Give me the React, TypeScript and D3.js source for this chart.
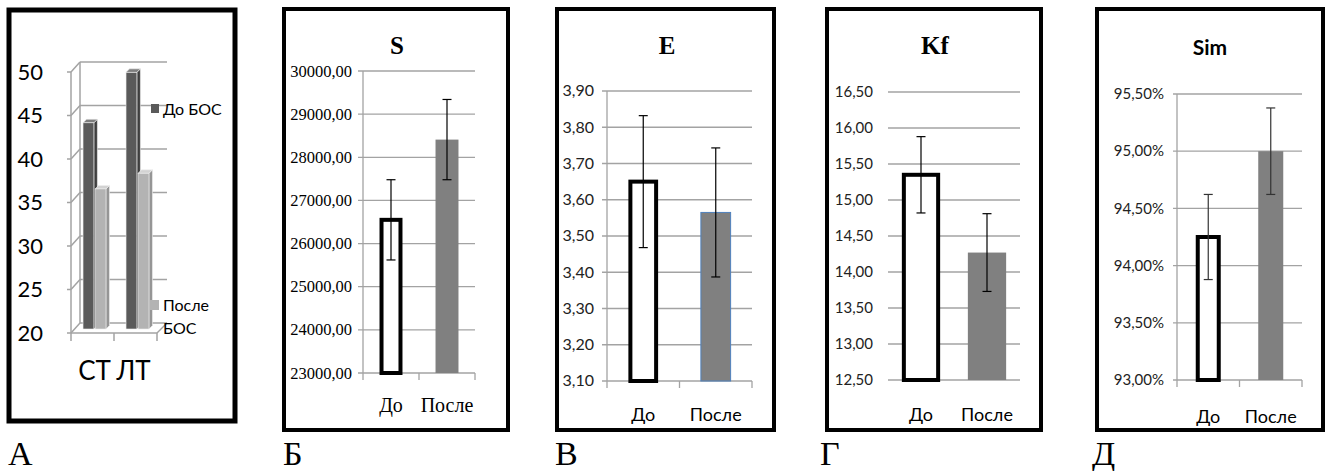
import React from "react";
import * as d3 from "d3";

// ---------- Panel A data ----------
const aCategories = ["СТ", "ЛТ"];
const aSeries = ["До БОС", "После БОС"];
const aBefore = [43.7, 49.5];
const aAfter = [36.1, 37.9];
const aTicks = [20, 25, 30, 35, 40, 45, 50];

// ---------- Bar panels data ----------
const groups = ["До", "После"];
const sValues = [26550, 28410];
const sErrors = [930, 930];
const sTicks = [23000, 24000, 25000, 26000, 27000, 28000, 29000, 30000];
const eValues = [3.65, 3.565];
const eErrors = [0.182, 0.178];
const eTicks = [3.1, 3.2, 3.3, 3.4, 3.5, 3.6, 3.7, 3.8, 3.9];
const kfValues = [15.35, 14.27];
const kfErrors = [0.53, 0.54];
const kfTicks = [12.5, 13, 13.5, 14, 14.5, 15, 15.5, 16, 16.5];
const simValues = [94.25, 95.0];
const simErrors = [0.372, 0.378];
const simTicks = [93, 93.5, 94, 94.5, 95, 95.5];
const panelLetters = ["А", "Б", "В", "Г", "Д"];

const SERIF = "Liberation Serif, Times New Roman, serif";
const SANS = "Lato, Open Sans, sans-serif";
const GRID = "#a3a3a3";

const comma = (v: number, d: number) => v.toFixed(d).replace(".", ",");

function T(props: any) {
  const { font, children, ...rest } = props;
  return <text {...rest} style={{ fontFamily: font }}>{children}</text>;
}

function Frame({ x0, x1, y0, y1, w }: any) {
  return <rect x={x0} y={y0} width={x1 - x0} height={y1 - y0} fill="white" stroke="black" strokeWidth={w} />;
}

function PanelA() {
  const y = d3.scaleLinear().domain([20, 50]).range([333, 72]);
  const backDx = 9, backDy = -10;
  const xFront = d3.scaleBand().domain(aCategories).range([71, 157]);
  const sub = d3.scaleBand().domain(aSeries).range([0, xFront.bandwidth()]).paddingInner(0.1).paddingOuter(0.83);
  const barDx = 2, barDy = -4, depth = 3.5;
  const backRight = 167;
  const frontColors = ["#5a5a5a", "#b3b3b3"];
  const sideColors = ["#3e3e3e", "#959595"];
  const topColors = ["#7d7d7d", "#d2d2d2"];
  const bars: any[] = [];
  aCategories.forEach((c, ci) => {
    [aBefore, aAfter].forEach((arr, si) => {
      const x0 = (xFront(c) as number) + (sub(aSeries[si]) as number) + barDx;
      const x1 = x0 + sub.bandwidth();
      const top = y(arr[ci]) + barDy;
      const bot = y(20) + barDy;
      bars.push(
        <g key={c + si}>
          <polygon points={`${x1},${top} ${x1 + depth},${top - depth} ${x1 + depth},${bot - depth} ${x1},${bot}`} fill={sideColors[si]} stroke="#eeeeee" strokeWidth={0.6} />
          <polygon points={`${x0},${top} ${x0 + depth},${top - depth} ${x1 + depth},${top - depth} ${x1},${top}`} fill={topColors[si]} stroke="#eeeeee" strokeWidth={0.6} />
          <rect x={x0} y={top} width={x1 - x0} height={bot - top} fill={frontColors[si]} stroke="#eeeeee" strokeWidth={0.6} />
        </g>
      );
    });
  });
  const xTickPos = [71, (xFront(aCategories[1]) as number), 157];
  return (
    <g>
      <Frame x0={9} x1={235} y0={10} y1={421} w={5} />
      {aTicks.map((t) => (
        <g key={t}>
          <line x1={67} x2={71} y1={y(t)} y2={y(t)} stroke={GRID} strokeWidth={1.5} />
          <line x1={71} y1={y(t)} x2={71 + backDx} y2={y(t) + backDy} stroke={GRID} strokeWidth={1.5} />
          <line x1={71 + backDx} x2={backRight} y1={y(t) + backDy} y2={y(t) + backDy} stroke={GRID} strokeWidth={1.5} />
          <T x={43} y={y(t) + 7.5} textAnchor="end" font={SANS} fontSize={22} fill="black">{t}</T>
        </g>
      ))}
      <line x1={71 + backDx} x2={71 + backDx} y1={y(50) + backDy} y2={y(20) + backDy} stroke={GRID} strokeWidth={1.5} />
      <line x1={71} x2={71} y1={y(50)} y2={y(20)} stroke={GRID} strokeWidth={1.5} />
      <line x1={71} x2={157} y1={y(20)} y2={y(20)} stroke={GRID} strokeWidth={1.5} />
      <line x1={157} y1={y(20)} x2={backRight} y2={y(20) + backDy} stroke={GRID} strokeWidth={1.5} />
      {xTickPos.map((xx, i) => (
        <line key={i} x1={xx} x2={xx} y1={y(20)} y2={y(20) + 8} stroke={GRID} strokeWidth={1.5} />
      ))}
      {bars}
      {aCategories.map((c) => (
        <T key={c} x={(xFront(c) as number) + xFront.bandwidth() / 2 + (c === "СТ" ? 2 : -2)} y={380} textAnchor="middle" font={SANS} fontSize={26} fill="black">{c}</T>
      ))}
      <rect x={151} y={104} width={8} height={9} fill={frontColors[0]} />
      <T x={163} y={115} font={SANS} fontSize={16} fill="black">{aSeries[0]}</T>
      <rect x={150} y={300} width={9} height={10} fill={frontColors[1]} />
      <T x={163} y={311} font={SANS} fontSize={16} fill="black">После</T>
      <T x={163} y={334} font={SANS} fontSize={16} fill="black">БОС</T>
    </g>
  );
}

function BarPanel(p: any) {
  const y = d3.scaleLinear().domain(p.domain).range(p.yRange);
  const x = d3.scaleBand().domain(groups).range(p.xRange).paddingInner(p.pad).paddingOuter(p.pad / 2);
  const [xa, xb] = p.xRange;
  const base = y(p.domain[0]);
  return (
    <g>
      <Frame x0={p.frame[0]} x1={p.frame[1]} y0={9} y1={430} w={4} />
      <T x={p.titleX} y={p.titleY} textAnchor="middle" font={p.titleFont} fontWeight="bold" fontSize={p.titleSize} fill="black">{p.title}</T>
      {p.ticks.map((t: number) => (
        <g key={t}>
          <line x1={xa - p.tickOut} x2={xb} y1={y(t)} y2={y(t)} stroke={GRID} strokeWidth={1.3} />
          <T x={p.labelX} y={y(t) + p.labelSize * 0.34} textAnchor="end" font={p.labelFont} fontSize={p.labelSize} fill={p.labelColor || "black"}>{p.fmt(t)}</T>
        </g>
      ))}
      {p.axis && <line x1={xa} x2={xa} y1={y(p.domain[1])} y2={base} stroke={GRID} strokeWidth={1.3} />}
      {p.xTicks && [xa, (x("После") as number) - (x.step() * p.pad) / 2, xb].map((xx: number, i: number) => (
        <line key={i} x1={xx} x2={xx} y1={base} y2={base + 7} stroke={GRID} strokeWidth={1.3} />
      ))}
      {groups.map((g, i) => {
        const bx = x(g) as number;
        const bw = x.bandwidth();
        const top = y(p.values[i]);
        const cx = bx + bw / 2;
        const e1 = y(p.values[i] + p.errors[i]);
        const e0 = y(p.values[i] - p.errors[i]);
        return (
          <g key={g}>
            {i === 0 ? (
              <rect x={bx + 2} y={top} width={bw - 4} height={base - top} fill="white" stroke="black" strokeWidth={4} />
            ) : (
              <rect x={bx} y={top} width={bw} height={base - top} fill="#808080" stroke={p.afterStroke || "none"} strokeWidth={1} />
            )}
            <line x1={cx} x2={cx} y1={e1} y2={e0} stroke={p.errColor || "black"} strokeWidth={1.2} />
            <line x1={cx - 4.5} x2={cx + 4.5} y1={e1} y2={e1} stroke={p.errColor || "black"} strokeWidth={1.2} />
            <line x1={cx - 4.5} x2={cx + 4.5} y1={e0} y2={e0} stroke={p.errColor || "black"} strokeWidth={1.2} />
            <T x={cx} y={p.catY} textAnchor="middle" font={p.catFont} fontSize={p.catSize} fill="black">{g}</T>
          </g>
        );
      })}
    </g>
  );
}

export default function App() {
  return (
    <svg width={1330} height={471} style={{ position: "absolute", left: 0, top: 0, background: "white" }}>
      <rect x={0} y={0} width={1330} height={471} fill="white" />
      <PanelA />
      <BarPanel frame={[284, 508]} title="S" titleX={397} titleY={54} titleFont={SERIF} titleSize={25}
        domain={[23000, 30000]} yRange={[373, 71]} ticks={sTicks} fmt={(v: number) => comma(v, 2)}
        labelX={352} labelFont={SERIF} labelSize={16.5} xRange={[363, 475]} pad={0.59} tickOut={5}
        axis xTicks values={sValues} errors={sErrors} catY={412} catFont={SERIF} catSize={20} />
      <BarPanel frame={[557, 774]} title="E" titleX={667} titleY={54} titleFont={SERIF} titleSize={25}
        domain={[3.1, 3.9]} yRange={[381, 91]} ticks={eTicks} fmt={(v: number) => comma(v, 2)}
        labelX={594} labelFont={SANS} labelSize={16} labelColor="#222" xRange={[607, 752]} pad={0.59} tickOut={5}
        axis xTicks values={eValues} errors={eErrors} afterStroke="#4f81bd" catY={421} catFont={SANS} catSize={18} />
      <BarPanel frame={[827, 1041]} title="Kf" titleX={935} titleY={54} titleFont={SERIF} titleSize={25}
        domain={[12.5, 16.5]} yRange={[380, 92]} ticks={kfTicks} fmt={(v: number) => comma(v, 2)}
        labelX={873} labelFont={SANS} labelSize={15} labelColor="#222" xRange={[888, 1020]} pad={0.42} tickOut={0}
        values={kfValues} errors={kfErrors} catY={421} catFont={SANS} catSize={18} />
      <BarPanel frame={[1097, 1323]} title="Sim" titleX={1210} titleY={55} titleFont={SANS} titleSize={21}
        domain={[93, 95.5]} yRange={[380, 94]} ticks={simTicks} fmt={(v: number) => comma(v, 2) + "%"}
        labelX={1164} labelFont={SANS} labelSize={15} labelColor="#222" xRange={[1177, 1302]} pad={0.6} tickOut={4}
        axis xTicks values={simValues} errors={simErrors} errColor="#333" catY={423} catFont={SANS} catSize={18} />
      {panelLetters.map((l, i) => (
        <T key={l} x={[8, 283, 555, 820, 1092][i]} y={465} font={SERIF} fontSize={34} fill="black">{l}</T>
      ))}
    </svg>
  );
}
